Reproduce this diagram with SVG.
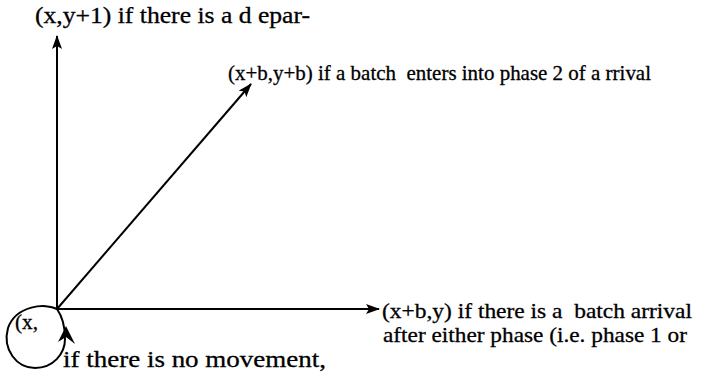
<svg xmlns="http://www.w3.org/2000/svg" width="708" height="373" viewBox="0 0 708 373">
<style>
text{font-family:"Liberation Serif","Times New Roman",serif;font-size:22px;fill:#000;stroke:#000;stroke-width:0.3;white-space:pre}
.ln{stroke:#000;stroke-width:2;fill:none}
</style>
<defs>
<marker id="ah" viewBox="0 0 14 10" refX="13" refY="5" markerWidth="14" markerHeight="10" markerUnits="userSpaceOnUse" orient="auto">
<path d="M0,0 L14,5 L0,10 L3,5 Z" fill="#000"/>
</marker>
</defs>
<rect width="708" height="373" fill="#fff"/>
<g id="connectors">
<line class="ln" x1="57" y1="309" x2="57" y2="36" marker-end="url(#ah)"/>
<line class="ln" x1="57" y1="309" x2="251" y2="84" stroke-width="1.6" marker-end="url(#ah)"/>
<line class="ln" x1="57" y1="309" x2="379" y2="309" marker-end="url(#ah)"/>
<path class="ln" d="M57,309 C46,303 16,305 8,328 C2,350 17,368 35,368 C53,368 65,354 65,339 C65,327 62,316 57,309"/>
<path d="M66,326 L75,344 L66,337 L58,342 Z" fill="#000"/>
</g>
<g id="node-origin">
<text x="15" y="329" textLength="23" lengthAdjust="spacingAndGlyphs" style="font-size:20px">(x,</text>
</g>
<g id="node-up">
<text x="35" y="23" textLength="275" lengthAdjust="spacingAndGlyphs" style="font-size:23px">(x,y+1) if there is a d epar-</text>
</g>
<g id="node-diag">
<text x="228" y="80" textLength="423" lengthAdjust="spacingAndGlyphs" style="font-size:21px">(x+b,y+b) if a batch  enters into phase 2 of a rrival</text>
</g>
<g id="node-right">
<text x="382" y="318" textLength="310" lengthAdjust="spacingAndGlyphs">(x+b,y) if there is a  batch arrival</text>
<text x="383" y="342" textLength="304" lengthAdjust="spacingAndGlyphs">after either phase (i.e. phase 1 or</text>
</g>
<g id="node-loop">
<text x="63" y="367" textLength="263" lengthAdjust="spacingAndGlyphs" style="font-size:24px">if there is no movement,</text>
</g>
</svg>
